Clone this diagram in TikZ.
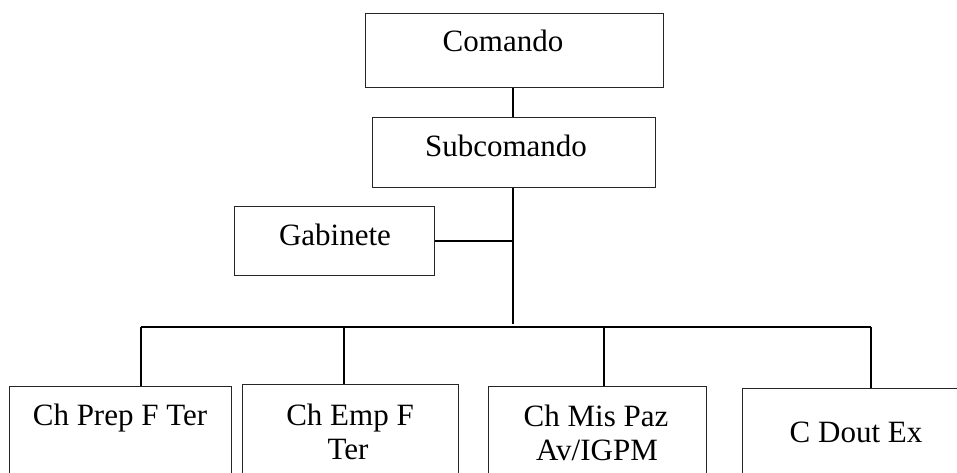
\documentclass[tikz,border=0pt]{standalone}
\usepackage{fontspec}
\setmainfont{Liberation Serif}
\begin{document}
\begin{tikzpicture}[x=1pt,y=-1pt,
  orgbox/.style={draw=black!85,line width=1.1pt,rectangle,inner sep=0pt,anchor=north west},
  lbl/.style={anchor=base,inner sep=0pt,font=\fontsize{31}{34}\selectfont},
  link/.style={draw=black,line width=1.3pt},
  bus/.style={draw=black,line width=1.7pt}]
\useasboundingbox (0,0) rectangle (957,473);
\clip (0,0) rectangle (957,473);

% upper chain
\node[orgbox,minimum width=298pt,minimum height=74pt] (comando) at (365,13) {};
\node[orgbox,minimum width=283pt,minimum height=70pt] (sub) at (372,117) {};
\node[orgbox,minimum width=200pt,minimum height=69pt] (gab) at (234,206) {};

% lower row (runs past the lower edge)
\node[orgbox,minimum width=222pt,minimum height=120pt] (b1) at (9,386) {};
\node[orgbox,minimum width=216pt,minimum height=120pt] (b2) at (242,384) {};
\node[orgbox,minimum width=218pt,minimum height=120pt] (b3) at (488,386) {};
\node[orgbox,minimum width=250pt,minimum height=120pt] (b4) at (742,388) {};

% labels
\node[lbl] (tcomando) at (503,52) {Comando};
\node[lbl] (tsub) at (506,157) {Subcomando};
\node[lbl] (tgab) at (335,245) {Gabinete};
\node[lbl] (t1) at (120,425) {Ch Prep F Ter};
\node[lbl] (t2a) at (350,425) {Ch Emp F};
\node[lbl] (t2b) at (348,459) {Ter};
\node[lbl] (t3a) at (596,426) {Ch Mis Paz};
\node[lbl] (t3b) at (597,460) {Av/IGPM};
\node[lbl] (t4) at (856,442) {C Dout Ex};

% connectors
\coordinate (hub) at (513,324);
\coordinate (d1) at (141,327);
\coordinate (d2) at (344,327);
\coordinate (d3) at (604,327);
\coordinate (d4) at (871,327);

\draw[link] (comando.south -| hub) -- (sub.north -| hub);
\draw[link] (sub.south -| hub) -- (hub);
\draw[link] (gab.east) -- (gab.east -| hub);
\draw[bus] (d1) -- (d4);
\draw[link] (d1) -- (d1 |- b1.north);
\draw[link] (d2) -- (d2 |- b2.north);
\draw[link] (d3) -- (d3 |- b3.north);
\draw[link] (d4) -- (d4 |- b4.north);
\end{tikzpicture}
\end{document}
